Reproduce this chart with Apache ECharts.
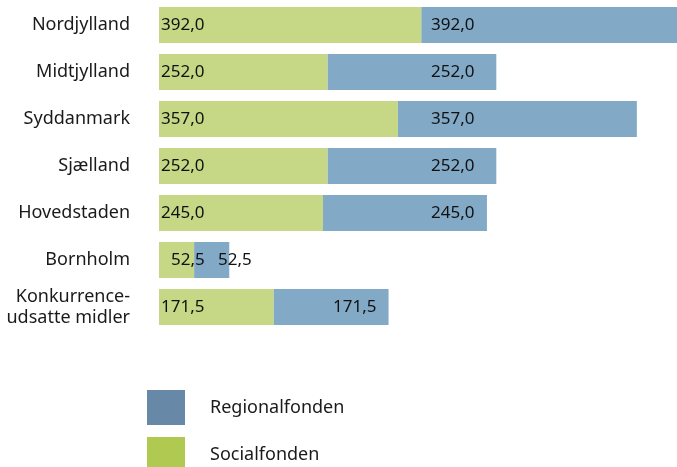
<!DOCTYPE html>
<html>
<head>
<meta charset="utf-8">
<script src="https://cdn.jsdelivr.net/npm/echarts@6/dist/echarts.min.js"></script>
<style>
  html, body { margin: 0; padding: 0; background: #fff; }
  #main { width: 677px; height: 467px; }
</style>
</head>
<body>
<div id="main"></div>
<script>
var regions = ['Nordjylland', 'Midtjylland', 'Syddanmark', 'Sjælland', 'Hovedstaden', 'Bornholm', 'Konkurrence-\nudsatte midler'];
var socialfonden = [392.0, 252.0, 357.0, 252.0, 245.0, 52.5, 171.5];
var regionalfonden = [392.0, 252.0, 357.0, 252.0, 245.0, 52.5, 171.5];

// where the value labels sit in the original (left edge, px)
var greenLabelX = [161, 161, 161, 161, 161, 171, 161];
var blueLabelX = [431, 431, 431, 431, 431, 218, 333];

function fmt(p) {
    return p.value.toFixed(1).replace('.', ',');
}

function placeLabel(xs) {
    return function (p) {
        return {
            x: xs[p.dataIndex],
            y: p.rect.y + p.rect.height / 2,
            align: 'left',
            verticalAlign: 'middle'
        };
    };
}

var legendText = { fontSize: 18, color: '#1a1a1a', padding: [2, 0, 0, 20] };

var myChart = echarts.init(document.getElementById('main'));
var option = {
    animation: false,
    textStyle: { fontFamily: 'Noto Sans' },
    grid: {
        left: 159,
        right: 0,
        top: 1.5,
        height: 329
    },
    xAxis: {
        type: 'value',
        min: 0,
        max: 774,
        show: false
    },
    yAxis: {
        type: 'category',
        inverse: true,
        data: regions,
        axisLine: { show: false },
        axisTick: { show: false },
        axisLabel: {
            margin: 29,
            fontSize: 18,
            color: '#1a1a1a',
            lineHeight: 21,
            align: 'right'
        }
    },
    legend: [
        {
            left: 147,
            top: 390,
            padding: 0,
            itemWidth: 38,
            itemHeight: 35,
            icon: 'rect',
            textStyle: legendText,
            data: [{ name: 'Regionalfonden', itemStyle: { color: '#6788a7' } }]
        },
        {
            left: 147,
            top: 437,
            padding: 0,
            itemWidth: 38,
            itemHeight: 35,
            icon: 'rect',
            textStyle: legendText,
            data: [{ name: 'Socialfonden', itemStyle: { color: '#afc951' } }]
        }
    ],
    series: [
        {
            name: 'Socialfonden',
            type: 'bar',
            stack: 'total',
            barWidth: 36,
            data: socialfonden,
            itemStyle: { color: '#c6d886' },
            label: {
                show: true,
                position: 'insideLeft',
                formatter: fmt,
                fontSize: 17,
                color: '#111'
            },
            labelLayout: placeLabel(greenLabelX)
        },
        {
            name: 'Regionalfonden',
            type: 'bar',
            stack: 'total',
            barWidth: 36,
            data: regionalfonden,
            itemStyle: { color: '#82a9c6' },
            label: {
                show: true,
                position: 'insideLeft',
                formatter: fmt,
                fontSize: 17,
                color: '#111'
            },
            labelLayout: placeLabel(blueLabelX)
        }
    ]
};
myChart.setOption(option);
</script>
</body>
</html>
